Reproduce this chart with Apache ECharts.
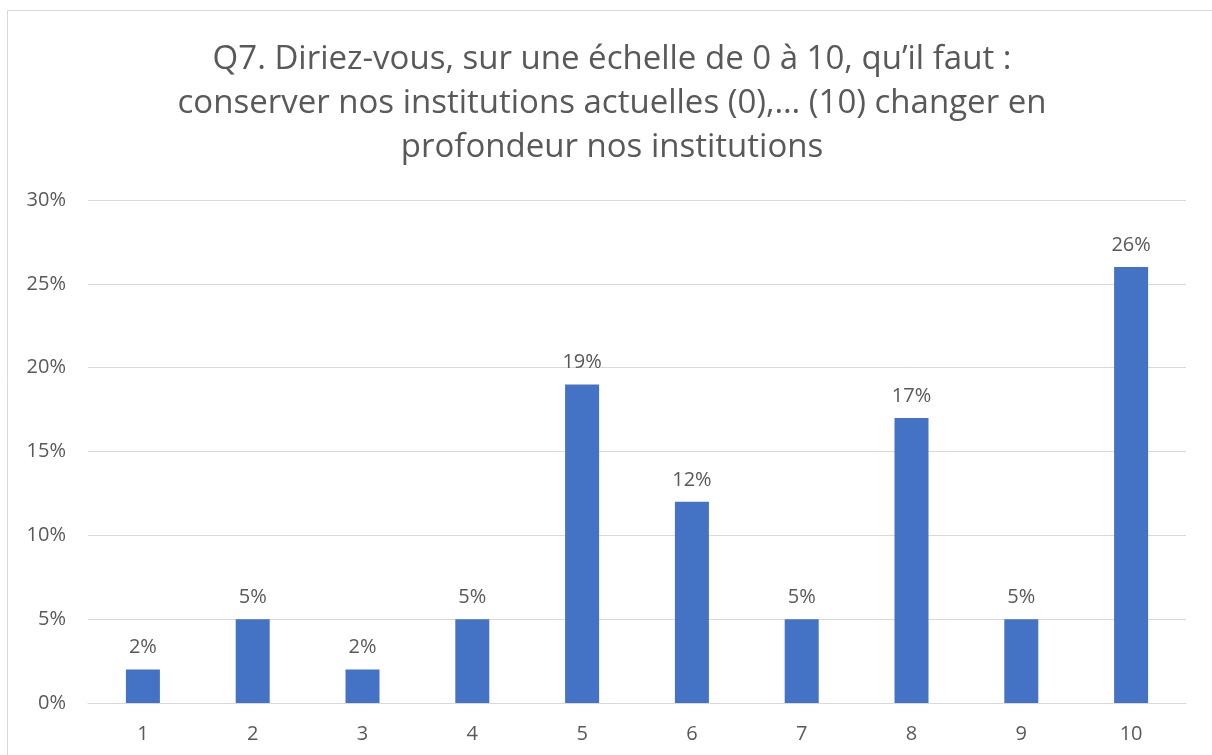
<!DOCTYPE html>
<html>
<head>
<meta charset="utf-8">
<script src="https://cdn.jsdelivr.net/npm/echarts@6/dist/echarts.min.js"></script>
<style>
  html, body { margin: 0; padding: 0; background: #fff; }
  #chart { width: 1212px; height: 755px; }
</style>
</head>
<body>
<div id="chart"></div>
<script>
const categories = ['1', '2', '3', '4', '5', '6', '7', '8', '9', '10'];
const values = [2, 5, 2, 5, 19, 12, 5, 17, 5, 26];
const titleLines = [
  'Q7. Diriez-vous, sur une échelle de 0 à 10, qu\u2019il faut :',
  'conserver nos institutions actuelles (0),\u2026 (10) changer en',
  'profondeur nos institutions'
];

const myChart = echarts.init(document.getElementById('chart'));
const textColor = '#595959';
const font = '"Open Sans", "Noto Sans", sans-serif';

const option = {
  animation: false,
  textStyle: { fontFamily: font },
  graphic: [
    {
      // cadre du graphique
      type: 'rect',
      shape: { x: 7.5, y: 10.5, width: 1240, height: 800 },
      style: { fill: 'none', stroke: '#d9d9d9', lineWidth: 1 }
    },
    {
      type: 'text',
      x: 612,
      y: 38,
      style: {
        text: titleLines.join('\n'),
        fill: textColor,
        font: '33px ' + font,
        lineHeight: 44,
        align: 'center'
      }
    }
  ],
  grid: {
    left: 88,
    right: 26,
    top: 200,
    bottom: 52
  },
  xAxis: {
    type: 'category',
    data: categories,
    axisLine: { lineStyle: { color: '#d9d9d9' } },
    axisTick: { show: false },
    axisLabel: { color: textColor, fontSize: 20, margin: 21 }
  },
  yAxis: {
    type: 'value',
    min: 0,
    max: 30,
    interval: 5,
    axisLine: { show: false },
    axisTick: { show: false },
    axisLabel: { color: textColor, fontSize: 20, margin: 22, formatter: '{value}%' },
    splitLine: { lineStyle: { color: '#d9d9d9' } }
  },
  series: [
    {
      type: 'bar',
      data: values,
      barWidth: 34,
      itemStyle: { color: '#4472C4' },
      label: {
        show: true,
        position: 'top',
        distance: 12,
        color: textColor,
        fontSize: 20,
        formatter: '{c}%'
      }
    }
  ]
};
myChart.setOption(option);
</script>
</body>
</html>
